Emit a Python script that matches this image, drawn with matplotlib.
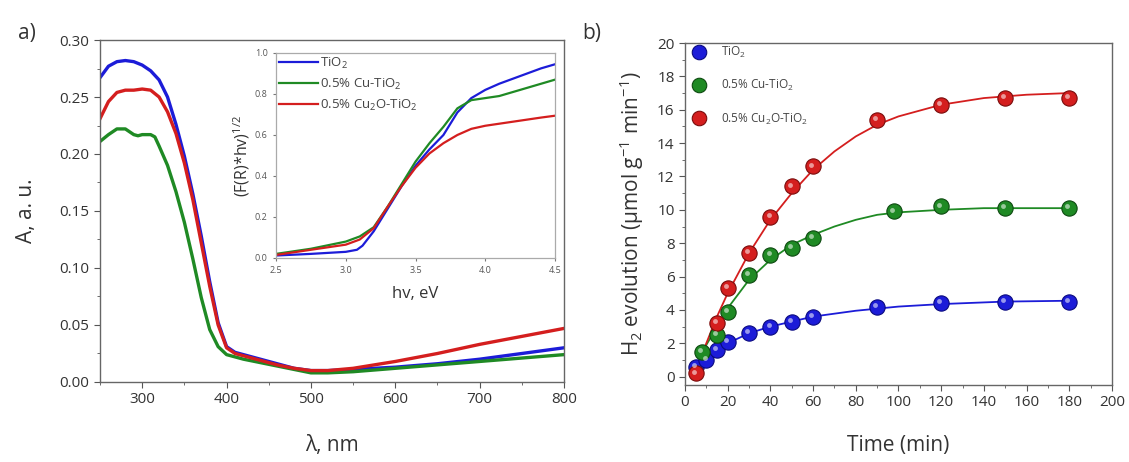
import matplotlib
matplotlib.use("Agg")
import matplotlib.pyplot as plt
from matplotlib.ticker import MultipleLocator
from matplotlib.transforms import offset_copy

plt.rcParams['font.family'] = ['Open Sans', 'DejaVu Sans']
plt.rcParams['mathtext.fontset'] = 'custom'
plt.rcParams['mathtext.rm'] = 'Open Sans'
plt.rcParams['mathtext.it'] = 'Open Sans'

# ---------- Panel a: absorbance ----------
wl_blue = [250, 260, 270, 280, 290, 300, 310, 320, 330, 340, 350, 360, 370, 380, 390, 400, 410, 420, 440, 460, 480, 500, 520, 550, 600, 650, 700, 750, 800]
abs_blue = [0.267, 0.277, 0.281, 0.282, 0.281, 0.278, 0.273, 0.265, 0.250, 0.226, 0.198, 0.165, 0.128, 0.088, 0.052, 0.031, 0.026, 0.024, 0.020, 0.016, 0.012, 0.010, 0.010, 0.011, 0.013, 0.016, 0.020, 0.025, 0.030]
wl_red = [250, 260, 270, 280, 290, 300, 310, 320, 330, 340, 350, 360, 370, 380, 390, 400, 410, 420, 440, 460, 480, 500, 520, 550, 600, 650, 700, 750, 800]
abs_red = [0.231, 0.246, 0.254, 0.256, 0.256, 0.257, 0.256, 0.250, 0.237, 0.218, 0.192, 0.160, 0.122, 0.084, 0.050, 0.030, 0.025, 0.023, 0.019, 0.015, 0.012, 0.010, 0.010, 0.012, 0.018, 0.025, 0.033, 0.040, 0.047]
wl_green = [250, 260, 270, 280, 290, 295, 300, 310, 315, 320, 330, 340, 350, 360, 370, 380, 390, 400, 420, 440, 460, 480, 500, 520, 550, 600, 650, 700, 750, 800]
abs_green = [0.211, 0.217, 0.222, 0.222, 0.217, 0.216, 0.217, 0.217, 0.215, 0.207, 0.190, 0.167, 0.140, 0.108, 0.074, 0.046, 0.031, 0.024, 0.020, 0.017, 0.014, 0.011, 0.008, 0.008, 0.009, 0.012, 0.015, 0.018, 0.021, 0.024]

# ---------- Inset: Tauc plot ----------
hv_blue = [2.5, 2.75, 3.0, 3.08, 3.12, 3.2, 3.3, 3.4, 3.5, 3.6, 3.7, 3.8, 3.9, 4.0, 4.1, 4.2, 4.3, 4.4, 4.5]
tauc_blue = [0.012, 0.02, 0.03, 0.04, 0.06, 0.13, 0.24, 0.35, 0.45, 0.53, 0.60, 0.71, 0.78, 0.82, 0.85, 0.875, 0.90, 0.925, 0.945]
hv_green = [2.5, 2.75, 3.0, 3.1, 3.2, 3.3, 3.4, 3.5, 3.6, 3.7, 3.8, 3.9, 4.0, 4.1, 4.2, 4.3, 4.4, 4.5]
tauc_green = [0.02, 0.045, 0.08, 0.105, 0.15, 0.25, 0.36, 0.47, 0.56, 0.64, 0.73, 0.77, 0.78, 0.79, 0.81, 0.83, 0.85, 0.87]
hv_red = [2.5, 2.75, 3.0, 3.1, 3.2, 3.3, 3.4, 3.5, 3.6, 3.7, 3.8, 3.9, 4.0, 4.1, 4.2, 4.3, 4.4, 4.5]
tauc_red = [0.015, 0.04, 0.065, 0.09, 0.145, 0.25, 0.35, 0.44, 0.51, 0.56, 0.60, 0.63, 0.645, 0.655, 0.665, 0.675, 0.685, 0.694]

# ---------- Panel b: H2 evolution ----------
t_blue = [5, 10, 15, 20, 30, 40, 50, 60, 90, 120, 150, 180]
h2_blue = [0.6, 1.0, 1.6, 2.1, 2.6, 3.0, 3.3, 3.6, 4.2, 4.4, 4.5, 4.5]
t_green = [8, 15, 20, 30, 40, 50, 60, 98, 120, 150, 180]
h2_green = [1.5, 2.5, 3.9, 6.1, 7.3, 7.7, 8.3, 9.9, 10.2, 10.1, 10.1]
t_red = [5, 15, 20, 30, 40, 50, 60, 90, 120, 150, 180]
h2_red = [0.2, 3.2, 5.3, 7.4, 9.6, 11.4, 12.6, 15.4, 16.3, 16.7, 16.7]

# fitted curves
tf_blue = [5, 10, 15, 20, 30, 40, 50, 60, 80, 100, 120, 150, 180]
fit_blue = [0.6, 1.1, 1.6, 2.0, 2.6, 3.0, 3.3, 3.6, 3.95, 4.2, 4.35, 4.5, 4.55]
tf_green = [8, 10, 15, 20, 30, 40, 50, 60, 70, 80, 90, 100, 120, 140, 160, 180]
fit_green = [1.4, 1.9, 3.0, 4.1, 5.8, 7.0, 7.9, 8.5, 9.0, 9.4, 9.7, 9.85, 10.0, 10.1, 10.1, 10.1]
tf_red = [5, 10, 15, 20, 30, 40, 50, 60, 70, 80, 90, 100, 120, 140, 160, 180]
fit_red = [0.3, 2.0, 3.6, 5.0, 7.4, 9.4, 11.0, 12.4, 13.5, 14.4, 15.1, 15.6, 16.3, 16.7, 16.9, 17.0]

labels = ['TiO$_2$', '0.5% Cu-TiO$_2$', '0.5% Cu$_2$O-TiO$_2$']
BLUE = '#1c1cd8'
GREEN = '#1f8a24'
RED = '#d41e1e'
TXT = '#333333'

fig = plt.figure(figsize=(11.29, 4.62), dpi=100)

# ----- Panel a -----
ax1 = fig.add_axes([0.0886, 0.1732, 0.4110, 0.7402])
ax1.plot(wl_blue, abs_blue, color=BLUE, lw=2.4)
ax1.plot(wl_green, abs_green, color=GREEN, lw=2.4)
ax1.plot(wl_red, abs_red, color=RED, lw=2.4)
ax1.set_xlim(250, 800)
ax1.set_ylim(0, 0.30)
ax1.xaxis.set_major_locator(MultipleLocator(100))
ax1.xaxis.set_minor_locator(MultipleLocator(50))
ax1.yaxis.set_major_locator(MultipleLocator(0.05))
ax1.yaxis.set_minor_locator(MultipleLocator(0.025))
ax1.yaxis.set_major_formatter(plt.FuncFormatter(lambda v, p: f"{v:.2f}"))
ax1.tick_params(which='both', direction='out', labelsize=11, colors='#555555', labelcolor=TXT)
ax1.tick_params(which='major', length=4)
ax1.tick_params(which='minor', length=2.5)
ax1.set_xlabel('λ, nm', fontsize=15, color=TXT, labelpad=20)
ax1.set_ylabel('A, a. u.', fontsize=15, color=TXT, labelpad=16)
for s in ax1.spines.values():
    s.set_color('#666666')
    s.set_linewidth(1.0)

# ----- Inset -----
axi = fig.add_axes([0.2445, 0.4416, 0.2471, 0.4437])
axi.plot(hv_blue, tauc_blue, color=BLUE, lw=1.6, label=labels[0])
axi.plot(hv_green, tauc_green, color=GREEN, lw=1.6, label=labels[1])
axi.plot(hv_red, tauc_red, color=RED, lw=1.6, label=labels[2])
axi.set_xlim(2.5, 4.5)
axi.set_ylim(0, 1.0)
axi.xaxis.set_major_locator(MultipleLocator(0.5))
axi.yaxis.set_major_locator(MultipleLocator(0.2))
axi.tick_params(which='both', direction='out', labelsize=6.5, colors='#777777', labelcolor='#555555', length=2.5)
axi.set_xlabel('hv, eV', fontsize=12, color=TXT, labelpad=8)
axi.set_ylabel('(F(R)*hv)$^{1/2}$', fontsize=11.5, color=TXT, labelpad=2)
for s in axi.spines.values():
    s.set_color('#aaaaaa')
    s.set_linewidth(0.9)
axi.legend(loc='upper left', frameon=False, fontsize=9.5, handlelength=3.0,
           handletextpad=0.1, borderaxespad=0.1, borderpad=0.1, labelspacing=0.45,
           labelcolor='#444444')

# ----- Panel b -----
ax2 = fig.add_axes([0.6067, 0.1667, 0.3782, 0.7402])
hl = offset_copy(ax2.transData, fig=fig, x=-1.3, y=1.3, units='points')
series = [(t_blue, h2_blue, tf_blue, fit_blue, BLUE, '#0a0a80'),
          (t_green, h2_green, tf_green, fit_green, GREEN, '#0d4a10'),
          (t_red, h2_red, tf_red, fit_red, RED, '#7a0c0c')]
for (tx, hy, tfx, fy, c, ec), lab in zip(series, labels):
    ax2.plot(tfx, fy, color=c, lw=1.3, zorder=2)
for (tx, hy, tfx, fy, c, ec), lab in zip(series, labels):
    ax2.plot(tx, hy, 'o', ms=11, color=c, mec=ec, mew=0.8, zorder=3, label=lab, ls='none')
    ax2.plot(tx, hy, 'o', ms=3.5, color='white', alpha=0.55, mec='none', zorder=4, transform=hl)
ax2.set_xlim(0, 200)
ax2.set_ylim(-0.5, 20)
ax2.xaxis.set_major_locator(MultipleLocator(20))
ax2.xaxis.set_minor_locator(MultipleLocator(10))
ax2.yaxis.set_major_locator(MultipleLocator(2))
ax2.yaxis.set_minor_locator(MultipleLocator(1))
ax2.tick_params(which='both', direction='out', labelsize=11, colors='#555555', labelcolor=TXT)
ax2.tick_params(which='major', length=4)
ax2.tick_params(which='minor', length=2.5)
ax2.set_xlabel('Time (min)', fontsize=15, color=TXT, labelpad=18)
ax2.set_ylabel('H$_2$ evolution (μmol g$^{-1}$ min$^{-1}$)', fontsize=15, color=TXT, labelpad=8)
for s in ax2.spines.values():
    s.set_color('#666666')
    s.set_linewidth(1.0)
ax2.legend(loc='upper left', frameon=False, fontsize=8.5, handletextpad=0.9,
           borderaxespad=0.1, borderpad=0.05, labelspacing=1.55, markerscale=0.95,
           labelcolor='#444444')

fig.text(0.016, 0.915, 'a)', fontsize=15, color=TXT)
fig.text(0.516, 0.915, 'b)', fontsize=15, color=TXT)

fig.savefig('out.png', dpi=100)
